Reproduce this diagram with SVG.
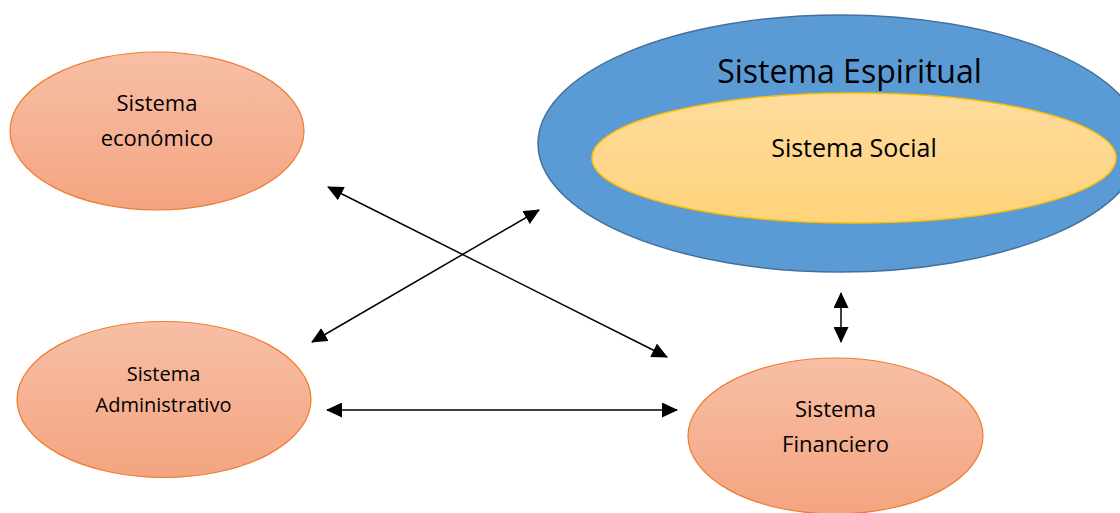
<svg xmlns="http://www.w3.org/2000/svg" width="1120" height="513" viewBox="0 0 1120 513">
  <style>
    .lbl { font-family: "Open Sans", "Liberation Sans", sans-serif; fill: #000; text-anchor: middle; }
    .orange { fill: url(#gOrange); stroke: #ED7D31; stroke-width: 1.2; }
    .conn { stroke: #000; stroke-width: 1.5; fill: none; marker-start: url(#arr); marker-end: url(#arr); }
  </style>
  <defs>
    <linearGradient id="gOrange" x1="0" y1="0" x2="0" y2="1">
      <stop offset="0" stop-color="#F7BFA6"/>
      <stop offset="1" stop-color="#F4A480"/>
    </linearGradient>
    <linearGradient id="gYellow" x1="0" y1="0" x2="0" y2="1">
      <stop offset="0" stop-color="#FFDC9E"/>
      <stop offset="1" stop-color="#FED37B"/>
    </linearGradient>
    <marker id="arr" viewBox="0 0 16 15" refX="15" refY="7.5" markerWidth="16" markerHeight="15" markerUnits="userSpaceOnUse" orient="auto-start-reverse">
      <path d="M0,0 L16,7.5 L0,15 z" fill="#000"/>
    </marker>
  </defs>
  <rect width="1120" height="513" fill="#fff"/>

  <g id="espiritual">
    <ellipse cx="840" cy="143.5" rx="302" ry="128.5" fill="#5B9BD5" stroke="#41719C" stroke-width="1.5"/>
    <text class="lbl" x="849.5" y="83" font-size="32">Sistema Espiritual</text>
  </g>
  <g id="social">
    <ellipse cx="854" cy="158" rx="262" ry="65" fill="url(#gYellow)" stroke="#FFC000" stroke-width="1.5"/>
    <text class="lbl" x="854" y="157" font-size="25">Sistema Social</text>
  </g>

  <g id="economico">
    <ellipse class="orange" cx="157" cy="131" rx="147" ry="79"/>
    <text class="lbl" x="157" y="111" font-size="22">Sistema</text>
    <text class="lbl" x="157" y="146" font-size="22">económico</text>
  </g>
  <g id="administrativo">
    <ellipse class="orange" cx="164" cy="399.5" rx="147" ry="78"/>
    <text class="lbl" x="163.5" y="381" font-size="20">Sistema</text>
    <text class="lbl" x="163.5" y="412" font-size="20">Administrativo</text>
  </g>
  <g id="financiero">
    <ellipse class="orange" cx="835.5" cy="436" rx="147.5" ry="78"/>
    <text class="lbl" x="835.5" y="417" font-size="22">Sistema</text>
    <text class="lbl" x="835.5" y="452" font-size="22">Financiero</text>
  </g>

  <g id="connectors">
    <line class="conn" x1="328" y1="187" x2="667" y2="357"/>
    <line class="conn" x1="312" y1="342" x2="539" y2="210"/>
    <line class="conn" x1="327" y1="410" x2="677" y2="410"/>
    <line class="conn" x1="841" y1="293" x2="841" y2="342"/>
  </g>
</svg>
